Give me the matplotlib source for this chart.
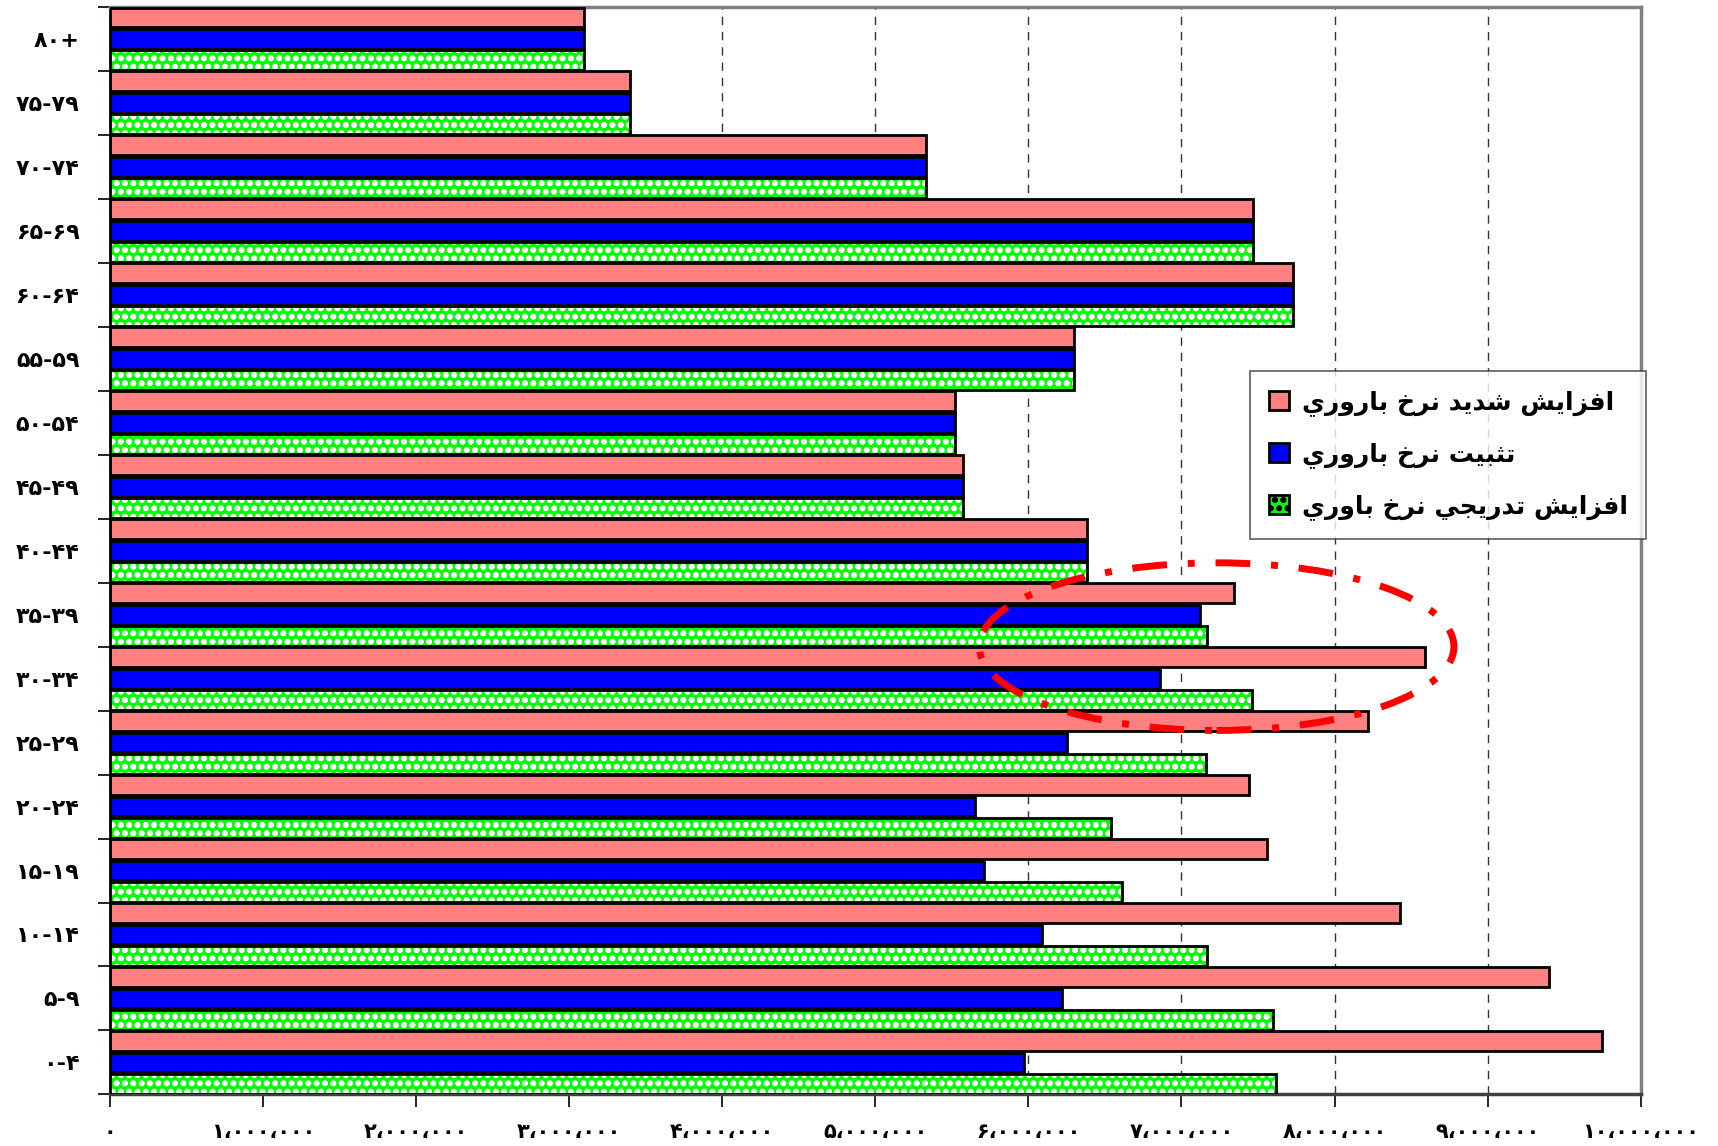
import matplotlib
matplotlib.use('Agg')
import matplotlib.pyplot as plt
import numpy as np
from matplotlib.patches import Ellipse, Patch

# Age groups, bottom to top
age_groups = ['۰-۴', '۵-۹', '۱۰-۱۴', '۱۵-۱۹', '۲۰-۲۴', '۲۵-۲۹', '۳۰-۳۴', '۳۵-۳۹', '۴۰-۴۴',
              '۴۵-۴۹', '۵۰-۵۴', '۵۵-۵۹', '۶۰-۶۴', '۶۵-۶۹', '۷۰-۷۴', '۷۵-۷۹', '۸۰+']

# Population (millions) for each scenario
high_growth = [9.75, 9.40, 8.43, 7.56, 7.44, 8.22, 8.59, 7.34, 6.38,
               5.57, 5.52, 6.30, 7.73, 7.47, 5.33, 3.40, 3.10]
constant = [5.97, 6.22, 6.09, 5.71, 5.65, 6.25, 6.86, 7.12, 6.38,
            5.57, 5.52, 6.30, 7.73, 7.47, 5.33, 3.40, 3.10]
gradual = [7.62, 7.60, 7.17, 6.61, 6.54, 7.16, 7.46, 7.17, 6.38,
           5.57, 5.52, 6.30, 7.73, 7.47, 5.33, 3.40, 3.10]

series_names = ['افزايش شديد نرخ باروري', 'تثبيت نرخ باروري', 'افزايش تدريجي نرخ باوري']

x_ticks = list(range(0, 10000001, 1000000))

persian_digits = '۰۱۲۳۴۵۶۷۸۹'


def to_persian(n):
    s = '{:,}'.format(n).replace(',', '،')
    return ''.join(persian_digits[int(c)] if c.isdigit() else c for c in s)


# minimal arabic shaping: isolated, final, initial, medial
forms = {
    'ا': ('\uFE8D', '\uFE8E', None, None),
    'ب': ('\uFE8F', '\uFE90', '\uFE91', '\uFE92'),
    'ت': ('\uFE95', '\uFE96', '\uFE97', '\uFE98'),
    'ث': ('\uFE99', '\uFE9A', '\uFE9B', '\uFE9C'),
    'ج': ('\uFE9D', '\uFE9E', '\uFE9F', '\uFEA0'),
    'خ': ('\uFEA5', '\uFEA6', '\uFEA7', '\uFEA8'),
    'د': ('\uFEA9', '\uFEAA', None, None),
    'ر': ('\uFEAD', '\uFEAE', None, None),
    'ز': ('\uFEAF', '\uFEB0', None, None),
    'ش': ('\uFEB5', '\uFEB6', '\uFEB7', '\uFEB8'),
    'ف': ('\uFED1', '\uFED2', '\uFED3', '\uFED4'),
    'ن': ('\uFEE5', '\uFEE6', '\uFEE7', '\uFEE8'),
    'و': ('\uFEED', '\uFEEE', None, None),
    'ي': ('\uFEF1', '\uFEF2', '\uFEF3', '\uFEF4'),
}


def shape(text):
    out = []
    for i, ch in enumerate(text):
        if ch not in forms:
            out.append(ch)
            continue
        prev = text[i - 1] if i > 0 else ''
        nxt = text[i + 1] if i + 1 < len(text) else ''
        join_prev = prev in forms and forms[prev][2] is not None
        join_next = nxt in forms and forms[ch][2] is not None
        iso, fin, ini, med = forms[ch]
        if join_prev and join_next:
            out.append(med)
        elif join_prev:
            out.append(fin)
        elif join_next:
            out.append(ini)
        else:
            out.append(iso)
    return ''.join(out)[::-1]


plt.rcParams['font.family'] = ['DejaVu Sans']
plt.rcParams['hatch.linewidth'] = 1.8

fig = plt.figure(figsize=(17.18, 11.46), dpi=100)
ax = fig.add_axes([0.064, 0.045, 0.891, 0.949])

y = np.arange(len(age_groups))
h = 0.31
off = 0.335
scale = 1000000

ax.barh(y + off, np.array(high_growth) * scale, height=h, color='#FF8080',
        edgecolor='black', linewidth=2, zorder=3)
ax.barh(y, np.array(constant) * scale, height=h, color='#0000FF',
        edgecolor='black', linewidth=2, zorder=3)
ax.barh(y - off, np.array(gradual) * scale, height=h, color='#00FF00',
        edgecolor='white', hatch='oo', linewidth=0, zorder=3)
ax.barh(y - off, np.array(gradual) * scale, height=h, fill=False,
        edgecolor='black', linewidth=2, zorder=3)

# highlight ellipse
ell = Ellipse((7.23 * scale, 6.5), width=3.1 * scale, height=2.62,
              fill=False, edgecolor='#FF0000', linewidth=5,
              linestyle=(0, (5, 3, 1, 3)), zorder=5)
ax.add_patch(ell)

ax.set_xlim(0, 10000000)
ax.set_ylim(-0.5, len(age_groups) - 0.5)

ax.set_xticks(x_ticks)
ax.set_xticklabels([to_persian(v) for v in x_ticks], fontsize=15, fontweight='bold')
ax.tick_params(axis='x', direction='out', length=9, width=1.2, pad=11, colors='black')

ax.set_yticks(np.arange(-0.5, len(age_groups), 1.0))
ax.set_yticklabels([])
ax.set_yticks(y, minor=True)
ax.set_yticklabels(age_groups, minor=True, fontsize=16, fontweight='bold')
ax.tick_params(axis='y', which='major', direction='out', length=9, width=1.2)
ax.tick_params(axis='y', which='minor', length=0, pad=22)

ax.grid(axis='x', linestyle=(0, (6, 5)), color='#333333', linewidth=1, zorder=0)
ax.set_axisbelow(True)

for side in ['top', 'right']:
    ax.spines[side].set_color('#808080')
    ax.spines[side].set_linewidth(2.5)
ax.spines['left'].set_color('black')
ax.spines['left'].set_linewidth(2)
ax.spines['bottom'].set_color('#404040')
ax.spines['bottom'].set_linewidth(2.5)

handles = [
    Patch(facecolor='#FF8080', edgecolor='black', linewidth=2),
    Patch(facecolor='#0000FF', edgecolor='black', linewidth=2),
    Patch(facecolor='#00FF00', edgecolor='black', linewidth=2, hatch='oo'),
]
leg = ax.legend(handles, [shape(s) for s in series_names], loc='upper left',
                bbox_to_anchor=(0.745, 0.665), prop={'size': 18, 'weight': 'bold'},
                handlelength=0.8, handleheight=0.8, handletextpad=0.5,
                labelspacing=1.05, borderpad=0.75, borderaxespad=0,
                frameon=True, fancybox=False)
leg.get_frame().set_edgecolor('#333333')
leg.get_frame().set_linewidth(1.2)
leg.set_zorder(6)

plt.savefig('out.png', dpi=100)
